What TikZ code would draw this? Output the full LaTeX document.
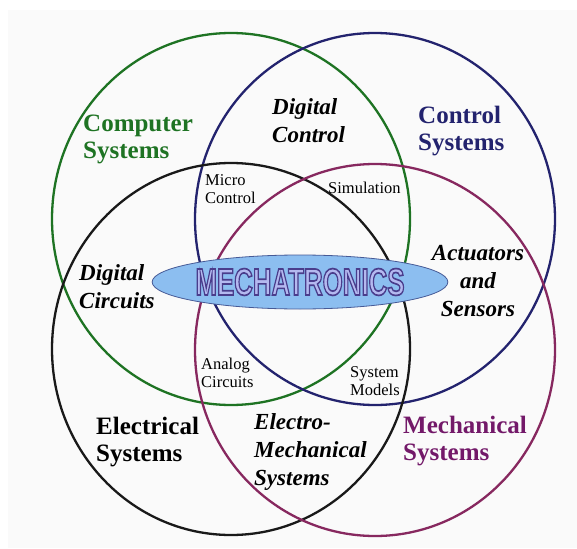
\documentclass[tikz,border=0pt]{standalone}
\usepackage{fontspec}
\setmainfont{Liberation Serif}
\newfontfamily\mechfont{Liberation Sans}
\usetikzlibrary{positioning,shapes.geometric}
\definecolor{compgreen}{RGB}{30,115,35}
\definecolor{ctrlnavy}{RGB}{35,35,110}
\definecolor{mechpurple}{RGB}{135,40,95}
\definecolor{mechtext}{RGB}{115,25,105}
\definecolor{ovalblue}{RGB}{140,190,240}
\definecolor{ovalline}{RGB}{70,90,150}
\definecolor{letterfill}{RGB}{180,185,240}
\tikzset{big label/.style={font=\fontsize{25}{27}\selectfont\bfseries,align=left,inner sep=0},
	mid label/.style={font=\fontsize{23}{28}\selectfont\bfseries\itshape,align=left,inner sep=0},
	small label/.style={font=\fontsize{16.5}{18.5}\selectfont,align=left,inner sep=0},
	field/.style={line width=2.3pt}}
% hollow letters: fill and stroke
\newcommand{\hollow}[1]{{\color{letterfill}\special{pdf:literal direct 2 Tr 1.7 w 0.29 0.24 0.55 RG}#1\special{pdf:literal direct 0 Tr 1 w}}}

\begin{document}
\begin{tikzpicture}[x=1pt,y=-1pt]
	\useasboundingbox (0,0) rectangle (577,548);
	\fill[black!2] (8,10) rectangle (577,548);
	
	\draw[field,compgreen] (231,219) ellipse (179 and 186); % computer
	\draw[field,ctrlnavy] (375,219) ellipse (180 and 186); % control
	\draw[field,black!90] (231,349) ellipse (179 and 186); % electrical
	\draw[field,mechpurple] (375,350) ellipse (180 and 186); % mechanical
	
	\node[draw=ovalline,fill=ovalblue,ellipse,line width=0.8pt,minimum width=290,minimum height=54,inner sep=0] (Core) at (300,282)
	{\scalebox{0.68}[1]{\mechfont\bfseries\fontsize{38}{38}\selectfont\hollow{MECHATRONICS}}};
	
	\node[big label,anchor=west,text=compgreen] (Comp) at (83,139) {Computer\\Systems};
	\node[big label,anchor=west,text=ctrlnavy] (Ctrl) at (418,131) {Control\\Systems};
	\node[big label,anchor=west] (Elec) at (96,442) {Electrical\\Systems};
	\node[big label,anchor=west,text=mechtext] (Mech) at (403,441) {Mechanical\\Systems};
	
	\node[mid label,anchor=west] (DigCtrl) at (272,121) {Digital\\Control};
	\node[mid label,anchor=west] (DigCirc) at (79,287) {Digital\\Circuits};
	\node[mid label,align=center] (ActSens) at (478,281) {Actuators\\and\\Sensors};
	\node[mid label,anchor=west] (ElecMech) at (254,452) {Electro-\\Mechanical\\Systems};
	
	\node[small label,anchor=west] (Micro) at (205,189) {Micro\\Control};
	\node[small label,anchor=west] (Sim) at (328,188) {Simulation};
	\node[small label,anchor=west] (Analog) at (201,373) {Analog\\Circuits};
	\node[small label,anchor=west] (Models) at (350,381) {System\\Models};
\end{tikzpicture}
\end{document}
